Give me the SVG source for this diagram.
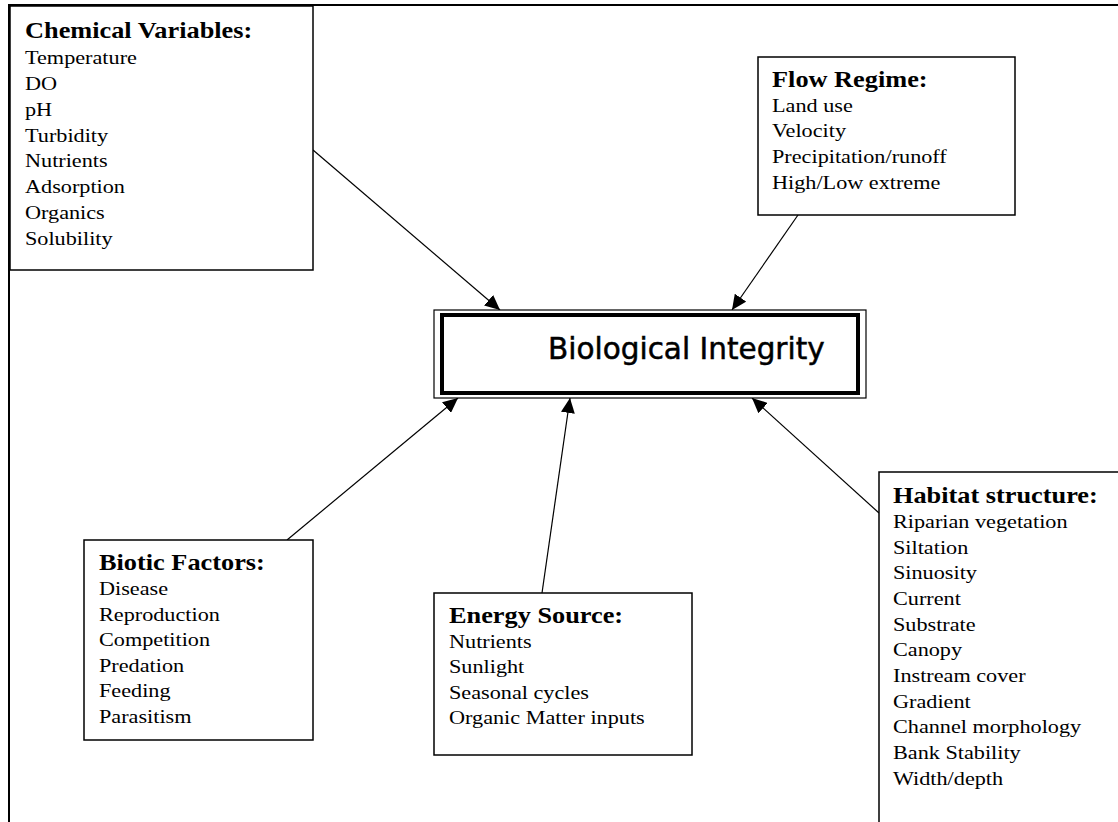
<svg xmlns="http://www.w3.org/2000/svg" width="1118" height="822" viewBox="0 0 1118 822">
  <style>
    .box { fill: #fff; stroke: #000; stroke-width: 1.5; }
    .t { font-family: "Liberation Serif", "Times New Roman", serif; font-size: 19px; fill: #000; }
    .h { font-weight: bold; font-size: 22.5px; }
    .link { stroke: #000; stroke-width: 1.2; fill: none; marker-end: url(#head); }
  </style>
  <defs>
    <marker id="head" markerUnits="userSpaceOnUse" markerWidth="16" markerHeight="14" refX="15" refY="7" orient="auto">
      <path d="M0,0 L15,7 L0,14 Z" fill="#000"/>
    </marker>
  </defs>
  <rect width="1118" height="822" fill="#fff"/>
  <!-- page frame -->
  <path d="M9,822 V5 H1118" fill="none" stroke="#000" stroke-width="2"/>

  <!-- connectors -->
  <g id="connectors">
    <line class="link" x1="313" y1="150" x2="500" y2="310"/>
    <line class="link" x1="798" y1="215" x2="732" y2="310"/>
    <line class="link" x1="287" y1="540" x2="458" y2="398"/>
    <line class="link" x1="542" y1="593" x2="570" y2="398"/>
    <line class="link" x1="879" y1="513" x2="752" y2="398"/>
  </g>

  <g id="chemical">
    <rect class="box" x="10" y="6" width="303" height="264"/>
    <g class="t" transform="translate(25 0) scale(1.17 1)">
      <text class="h" y="38.5">Chemical Variables:</text>
      <text y="64">Temperature</text>
      <text y="90">DO</text>
      <text y="116">pH</text>
      <text y="142">Turbidity</text>
      <text y="167.5">Nutrients</text>
      <text y="193.5">Adsorption</text>
      <text y="219">Organics</text>
      <text y="245">Solubility</text>
    </g>
  </g>

  <g id="flow">
    <rect class="box" x="758" y="57" width="257" height="158"/>
    <g class="t" transform="translate(772 0) scale(1.17 1)">
      <text class="h" y="87">Flow Regime:</text>
      <text y="112">Land use</text>
      <text y="137.5">Velocity</text>
      <text y="163">Precipitation/runoff</text>
      <text y="189">High/Low extreme</text>
    </g>
  </g>

  <g id="biological">
    <rect x="434" y="310" width="432" height="88" fill="#fff" stroke="#000" stroke-width="1.2"/>
    <rect x="442" y="315" width="416" height="78" fill="none" stroke="#000" stroke-width="4"/>
    <text x="548" y="359" font-family="DejaVu Sans, Verdana, sans-serif" font-size="29.5" fill="#000" stroke="#000" stroke-width="0.5">Biological Integrity</text>
  </g>

  <g id="biotic">
    <rect class="box" x="84" y="540" width="229" height="200"/>
    <g class="t" transform="translate(99 0) scale(1.17 1)">
      <text class="h" y="570.5">Biotic Factors:</text>
      <text y="595.5">Disease</text>
      <text y="621">Reproduction</text>
      <text y="646.5">Competition</text>
      <text y="672">Predation</text>
      <text y="697.5">Feeding</text>
      <text y="723">Parasitism</text>
    </g>
  </g>

  <g id="energy">
    <rect class="box" x="434" y="593" width="258" height="162"/>
    <g class="t" transform="translate(449 0) scale(1.17 1)">
      <text class="h" y="623">Energy Source:</text>
      <text y="648">Nutrients</text>
      <text y="673.5">Sunlight</text>
      <text y="699">Seasonal cycles</text>
      <text y="724.5">Organic Matter inputs</text>
    </g>
  </g>

  <g id="habitat">
    <rect class="box" x="879" y="472" width="250" height="370"/>
    <g class="t" transform="translate(893 0) scale(1.17 1)">
      <text class="h" y="503">Habitat structure:</text>
      <text y="528">Riparian vegetation</text>
      <text y="554">Siltation</text>
      <text y="579.5">Sinuosity</text>
      <text y="605.5">Current</text>
      <text y="631">Substrate</text>
      <text y="656.5">Canopy</text>
      <text y="682.5">Instream cover</text>
      <text y="708">Gradient</text>
      <text y="733.5">Channel morphology</text>
      <text y="759">Bank Stability</text>
      <text y="785">Width/depth</text>
    </g>
  </g>
</svg>
